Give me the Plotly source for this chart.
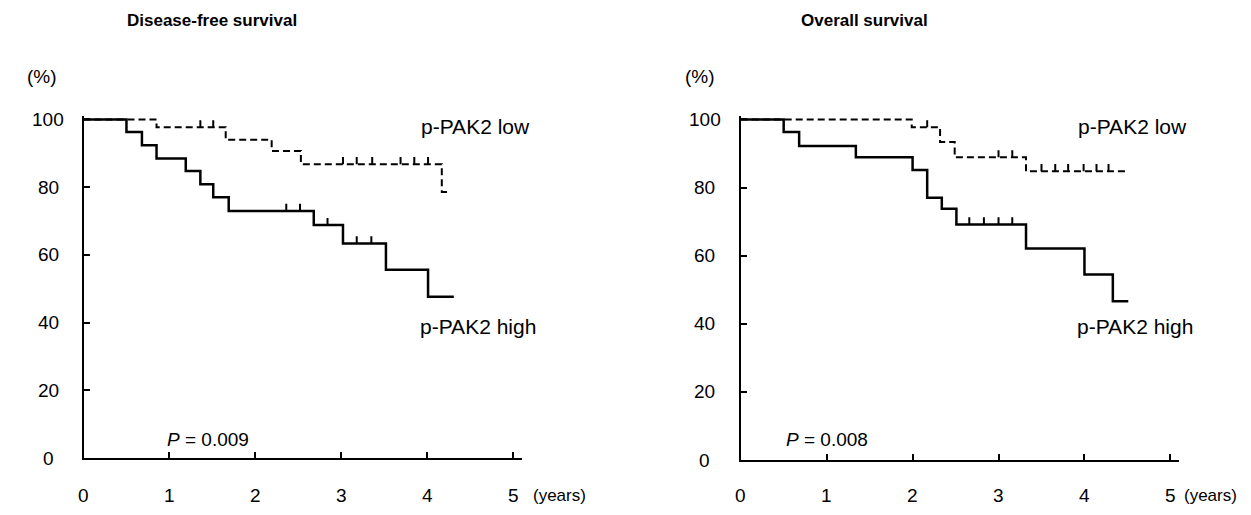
import plotly.graph_objects as go

# ---------------- data ----------------
years_ticks = [0, 1, 2, 3, 4, 5]
pct_ticks = [0, 20, 40, 60, 80, 100]

# Disease-free survival
dfs_high_t = [0, 0.50, 0.68, 0.85, 1.19, 1.36, 1.51, 1.69, 2.68, 3.02, 3.52, 4.01, 4.31]
dfs_high_s = [100, 96.3, 92.4, 88.5, 84.8, 80.9, 77.0, 73.0, 68.8, 63.4, 55.6, 47.6, 47.6]
dfs_high_cens = [2.36, 2.52, 2.84, 3.18, 3.35]

dfs_low_t = [0, 0.85, 1.655, 2.19, 2.53, 4.17, 4.27]
dfs_low_s = [100, 97.7, 94.0, 90.7, 86.8, 78.6, 78.6]
dfs_low_cens = [1.36, 1.51, 3.02, 3.18, 3.36, 3.69, 3.85, 4.01]

# Overall survival
os_high_t = [0, 0.50, 0.68, 1.34, 2.00, 2.17, 2.34, 2.51, 3.32, 4.00, 4.33, 4.51]
os_high_s = [100, 96.3, 92.2, 88.9, 85.2, 77.0, 73.8, 69.2, 62.1, 54.5, 46.6, 46.6]
os_high_cens = [2.66, 2.83, 3.00, 3.16]

os_low_t = [0, 1.99, 2.32, 2.49, 3.32, 4.49]
os_low_s = [100, 97.7, 93.4, 88.9, 84.8, 84.8]
os_low_cens = [2.17, 3.00, 3.16, 3.50, 3.66, 3.81, 3.99, 4.14, 4.28]

titles = ["Disease-free survival", "Overall survival"]
p_values = ["0.009", "0.008"]
group_labels = ["p-PAK2 low", "p-PAK2 high"]

# ---------------- helpers ----------------
PAGE_W, PAGE_H = 1251, 515
OFF = 8  # default body margin of the html page
W, H = PAGE_W - 2 * OFF, PAGE_H - 2 * OFF
FONT = "Arial, Liberation Sans, sans-serif"


def step_value(ts, ss, x):
    v = ss[0]
    for t, s in zip(ts, ss):
        if t <= x:
            v = s
    return v


def censor_segments(ts, ss, cens, h=2.1):
    xs, ys = [], []
    for c in cens:
        v = step_value(ts, ss, c)
        xs += [c, c, None]
        ys += [v, v + h, None]
    return xs, ys


def px_x(p):
    return (p - OFF) / W


def px_y(p):
    return 1 - (p - OFF) / H


fig = go.Figure()

panels = [
    dict(xdom=(83.5, 521.7), y0=458.0, y100=119.5,
         high=(dfs_high_t, dfs_high_s, dfs_high_cens), low=(dfs_low_t, dfs_low_s, dfs_low_cens),
         title_x=212, pct_x=42, ylab_x=48, years_x=531, low_x=475, high_x=478, p_x=208),
    dict(xdom=(740.7, 1179.0), y0=460.0, y100=119.5,
         high=(os_high_t, os_high_s, os_high_cens), low=(os_low_t, os_low_s, os_low_cens),
         title_x=865, pct_x=700, ylab_x=705, years_x=1182, low_x=1132, high_x=1135, p_x=827),
]

XMAX = 5.1
YMAX = 101

annotations = []
for i, P in enumerate(panels):
    sfx = "" if i == 0 else "2"
    xa, ya = "x" + sfx, "y" + sfx
    lt, ls, lc = P["low"]
    ht, hs, hc = P["high"]
    # low (dashed)
    fig.add_trace(go.Scatter(x=lt, y=ls, mode="lines", line=dict(color="black", width=2, dash="7px,4px", shape="hv"),
                             xaxis=xa, yaxis=ya, showlegend=False, hoverinfo="skip", cliponaxis=False))
    cx, cy = censor_segments(lt, ls, lc)
    fig.add_trace(go.Scatter(x=cx, y=cy, mode="lines", line=dict(color="black", width=2),
                             xaxis=xa, yaxis=ya, showlegend=False, hoverinfo="skip", cliponaxis=False))
    # high (solid)
    fig.add_trace(go.Scatter(x=ht, y=hs, mode="lines", line=dict(color="black", width=2.5, shape="hv"),
                             xaxis=xa, yaxis=ya, showlegend=False, hoverinfo="skip", cliponaxis=False))
    cx, cy = censor_segments(ht, hs, hc)
    fig.add_trace(go.Scatter(x=cx, y=cy, mode="lines", line=dict(color="black", width=2),
                             xaxis=xa, yaxis=ya, showlegend=False, hoverinfo="skip", cliponaxis=False))

    ppu = (P["y0"] - P["y100"]) / 100.0
    ytop_px = P["y0"] - YMAX * ppu
    xd = [px_x(P["xdom"][0]), px_x(P["xdom"][1])]
    yd = [px_y(P["y0"]), px_y(ytop_px)]
    fig.layout["xaxis" + sfx] = dict(domain=xd, range=[0, XMAX], anchor=ya, showgrid=False, zeroline=False,
                                     showline=True, linecolor="black", linewidth=2,
                                     ticks="inside", ticklen=6, tickwidth=2, tickcolor="black",
                                     tickvals=years_ticks, showticklabels=False, fixedrange=True)
    fig.layout["yaxis" + sfx] = dict(domain=yd, range=[0, YMAX], anchor=xa, showgrid=False, zeroline=False,
                                     showline=True, linecolor="black", linewidth=2,
                                     ticks="inside", ticklen=6, tickwidth=2, tickcolor="black",
                                     tickvals=pct_ticks, showticklabels=False, fixedrange=True)

    tf = dict(family=FONT, size=19, color="black")
    # y tick labels
    for v in pct_ticks:
        annotations.append(dict(x=px_x(P["ylab_x"]), xref="paper", y=v, yref=ya, text=str(v),
                                showarrow=False, xanchor="center", yanchor="middle", font=tf))
    # x tick labels
    for v in years_ticks:
        annotations.append(dict(x=v, xref=xa, y=px_y(495), yref="paper", text=str(v),
                                showarrow=False, xanchor="center", yanchor="middle", font=tf))
    annotations.append(dict(x=px_x(P["years_x"]), xref="paper", y=px_y(495), yref="paper", text="(years)",
                            showarrow=False, xanchor="left", yanchor="middle",
                            font=dict(family=FONT, size=17, color="black")))
    annotations.append(dict(x=px_x(P["pct_x"]), xref="paper", y=px_y(76), yref="paper", text="(%)",
                            showarrow=False, xanchor="center", yanchor="middle", font=tf))
    annotations.append(dict(x=px_x(P["title_x"]), xref="paper", y=px_y(20), yref="paper",
                            text="<b>" + titles[i] + "</b>",
                            showarrow=False, xanchor="center", yanchor="middle",
                            font=dict(family=FONT, size=17, color="black")))
    annotations.append(dict(x=px_x(P["low_x"]), xref="paper", y=px_y(126), yref="paper", text=group_labels[0],
                            showarrow=False, xanchor="center", yanchor="middle",
                            font=dict(family=FONT, size=21, color="black")))
    annotations.append(dict(x=px_x(P["high_x"]), xref="paper", y=px_y(326), yref="paper", text=group_labels[1],
                            showarrow=False, xanchor="center", yanchor="middle",
                            font=dict(family=FONT, size=21, color="black")))
    annotations.append(dict(x=px_x(P["p_x"]), xref="paper", y=px_y(439), yref="paper",
                            text="<i>P</i> = " + p_values[i],
                            showarrow=False, xanchor="center", yanchor="middle",
                            font=dict(family=FONT, size=19, color="black")))

fig.update_layout(width=W, height=H, margin=dict(l=0, r=0, t=0, b=0),
                  paper_bgcolor="white", plot_bgcolor="white", annotations=annotations)

fig.write_html("out.html")
